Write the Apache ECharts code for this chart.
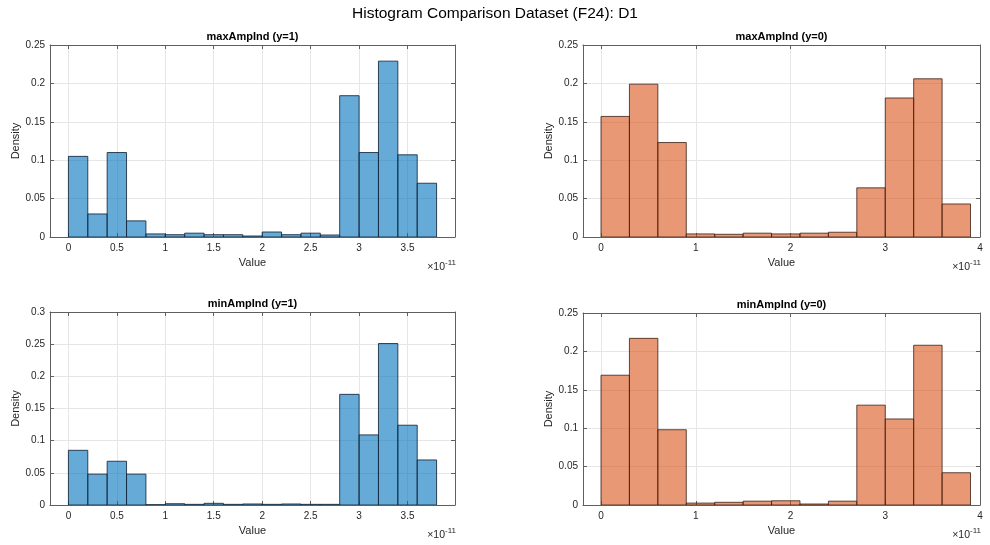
<!DOCTYPE html>
<html>
<head>
<meta charset="utf-8">
<script src="https://cdn.jsdelivr.net/npm/echarts@6/dist/echarts.min.js"></script>
<style>
  html, body { margin: 0; padding: 0; background: #ffffff; }
  #chart { width: 990px; height: 545px; }
</style>
</head>
<body>
<div id="chart"></div>
<script>
// Bin edges (x values in units of 1e-11)
const edgesY1 = [0, 0.2, 0.4, 0.6, 0.8, 1.0, 1.2, 1.4, 1.6, 1.8, 2.0, 2.2, 2.4, 2.6, 2.8, 3.0, 3.2, 3.4, 3.6, 3.8];
const edgesY0 = [0, 0.3, 0.6, 0.9, 1.2, 1.5, 1.8, 2.1, 2.4, 2.7, 3.0, 3.3, 3.6, 3.9];

// Densities per bin
const maxAmpY1 = [0.105, 0.030, 0.110, 0.021, 0.004, 0.003, 0.005, 0.003, 0.003, 0.0013, 0.0065, 0.003, 0.005, 0.0026, 0.184, 0.110, 0.229, 0.107, 0.070];
const maxAmpY0 = [0.157, 0.199, 0.123, 0.004, 0.0035, 0.005, 0.004, 0.005, 0.0062, 0.064, 0.181, 0.206, 0.043];
const minAmpY1 = [0.085, 0.048, 0.068, 0.048, 0.0005, 0.002, 0.001, 0.0026, 0.001, 0.0016, 0.001, 0.0016, 0.001, 0.001, 0.172, 0.109, 0.251, 0.124, 0.070];
const minAmpY0 = [0.169, 0.217, 0.098, 0.0025, 0.0035, 0.005, 0.0055, 0.0013, 0.005, 0.130, 0.112, 0.208, 0.042];

// Axis ticks
const xTicksY1 = [0, 0.5, 1, 1.5, 2, 2.5, 3, 3.5];
const xTicksY0 = [0, 1, 2, 3, 4];

const panelTitles = ['maxAmpInd (y=1)', 'maxAmpInd (y=0)', 'minAmpInd (y=1)', 'minAmpInd (y=0)'];
const mainTitle = 'Histogram Comparison Dataset (F24): D1';

const FONT = '"Liberation Sans", Arial, Helvetica, sans-serif';
const TEXT = '#262626';
const BOX = '#5f5f5f';
const GRIDLINE = '#e6e6e6';
const BLUE_FILL = 'rgba(0,114,189,0.6)';
const BLUE_EDGE = 'rgba(20,40,60,0.85)';
const ORANGE_FILL = 'rgba(217,83,25,0.6)';
const ORANGE_EDGE = 'rgba(60,30,20,0.8)';

// Panel layout
const panels = [
  { grid: { left: 50, top: 45, width: 405, height: 192 }, xMin: -0.19, xMax: 3.99, yMax: 0.25, edges: edgesY1, values: maxAmpY1, ticks: xTicksY1, fill: BLUE_FILL, edge: BLUE_EDGE },
  { grid: { left: 583, top: 45, width: 397, height: 192 }, xMin: -0.19, xMax: 4.0, yMax: 0.25, edges: edgesY0, values: maxAmpY0, ticks: xTicksY0, fill: ORANGE_FILL, edge: ORANGE_EDGE },
  { grid: { left: 50, top: 312, width: 405, height: 193 }, xMin: -0.19, xMax: 3.99, yMax: 0.3, edges: edgesY1, values: minAmpY1, ticks: xTicksY1, fill: BLUE_FILL, edge: BLUE_EDGE },
  { grid: { left: 583, top: 313, width: 397, height: 192 }, xMin: -0.19, xMax: 4.0, yMax: 0.25, edges: edgesY0, values: minAmpY0, ticks: xTicksY0, fill: ORANGE_FILL, edge: ORANGE_EDGE }
];

const grids = [], xAxes = [], yAxes = [], series = [], titles = [], graphics = [];

titles.push({
  text: mainTitle, left: 495, top: 6, textAlign: 'center', padding: 0,
  textStyle: { fontFamily: FONT, fontSize: 15.5, fontWeight: 'normal', color: '#000' }
});

panels.forEach((p, i) => {
  grids.push(Object.assign({ containLabel: false }, p.grid));
  const cx = p.grid.left + p.grid.width / 2;

  titles.push({
    text: panelTitles[i], left: cx, top: p.grid.top - 14, textAlign: 'center', padding: 0,
    textStyle: { fontFamily: FONT, fontSize: 11, fontWeight: 'bold', color: '#000' }
  });

  // bottom x axis
  xAxes.push({
    type: 'value', gridIndex: i, position: 'bottom', min: p.xMin, max: p.xMax,
    name: 'Value', nameLocation: 'middle', nameGap: 20,
    nameTextStyle: { fontFamily: FONT, fontSize: 11, color: TEXT },
    axisLine: { show: true, onZero: false, lineStyle: { color: BOX, width: 1 } },
    axisTick: { show: true, inside: true, length: 4, customValues: p.ticks, lineStyle: { color: BOX } },
    axisLabel: { show: true, customValues: p.ticks, margin: 6, fontFamily: FONT, fontSize: 10, color: TEXT },
    splitLine: { show: true, lineStyle: { color: GRIDLINE, width: 1 } }
  });
  // top mirror x axis
  xAxes.push({
    type: 'value', gridIndex: i, position: 'top', min: p.xMin, max: p.xMax,
    axisLine: { show: true, onZero: false, lineStyle: { color: BOX, width: 1 } },
    axisTick: { show: true, inside: true, length: 4, customValues: p.ticks, lineStyle: { color: BOX } },
    axisLabel: { show: false },
    splitLine: { show: false }
  });
  // left y axis
  yAxes.push({
    type: 'value', gridIndex: i, position: 'left', min: 0, max: p.yMax, interval: 0.05,
    name: 'Density', nameLocation: 'middle', nameGap: 29, nameRotate: 90,
    nameTextStyle: { fontFamily: FONT, fontSize: 11, color: TEXT },
    axisLine: { show: true, onZero: false, lineStyle: { color: BOX, width: 1 } },
    axisTick: { show: true, inside: true, length: 4, lineStyle: { color: BOX } },
    axisLabel: { show: true, margin: 5, fontFamily: FONT, fontSize: 10, color: TEXT },
    splitLine: { show: true, lineStyle: { color: GRIDLINE, width: 1 } }
  });
  // right mirror y axis
  yAxes.push({
    type: 'value', gridIndex: i, position: 'right', min: 0, max: p.yMax, interval: 0.05,
    axisLine: { show: true, onZero: false, lineStyle: { color: BOX, width: 1 } },
    axisTick: { show: true, inside: true, length: 4, lineStyle: { color: BOX } },
    axisLabel: { show: false },
    splitLine: { show: false }
  });

  // histogram bins: [start, end, density]
  const data = p.values.map((v, k) => [p.edges[k], p.edges[k + 1], v]);
  series.push({
    type: 'custom',
    xAxisIndex: 2 * i,
    yAxisIndex: 2 * i,
    clip: true,
    data: data,
    encode: { x: [0, 1], y: 2 },
    renderItem: (params, api) => {
      const a = api.coord([api.value(0), 0]);
      const b = api.coord([api.value(1), api.value(2)]);
      return {
        type: 'rect',
        shape: { x: a[0], y: b[1], width: b[0] - a[0], height: a[1] - b[1] },
        style: { fill: p.fill, stroke: p.edge, lineWidth: 1 }
      };
    }
  });

  // exponent annotation under the x axis end
  graphics.push({
    type: 'text',
    right: 990 - (p.grid.left + p.grid.width) - 1,
    top: p.grid.top + p.grid.height + 22,
    style: {
      text: '{a|\u00d710}{b|-11}',
      rich: {
        a: { fontFamily: FONT, fontSize: 10.5, fill: TEXT, verticalAlign: 'bottom' },
        b: { fontFamily: FONT, fontSize: 8, fill: TEXT, verticalAlign: 'top', padding: [0, 0, 6, 0] }
      }
    }
  });
});

const chart = echarts.init(document.getElementById('chart'), null, { renderer: 'canvas' });
chart.setOption({
  backgroundColor: '#ffffff',
  animation: false,
  title: titles,
  grid: grids,
  xAxis: xAxes,
  yAxis: yAxes,
  series: series,
  graphic: graphics
});
</script>
</body>
</html>
